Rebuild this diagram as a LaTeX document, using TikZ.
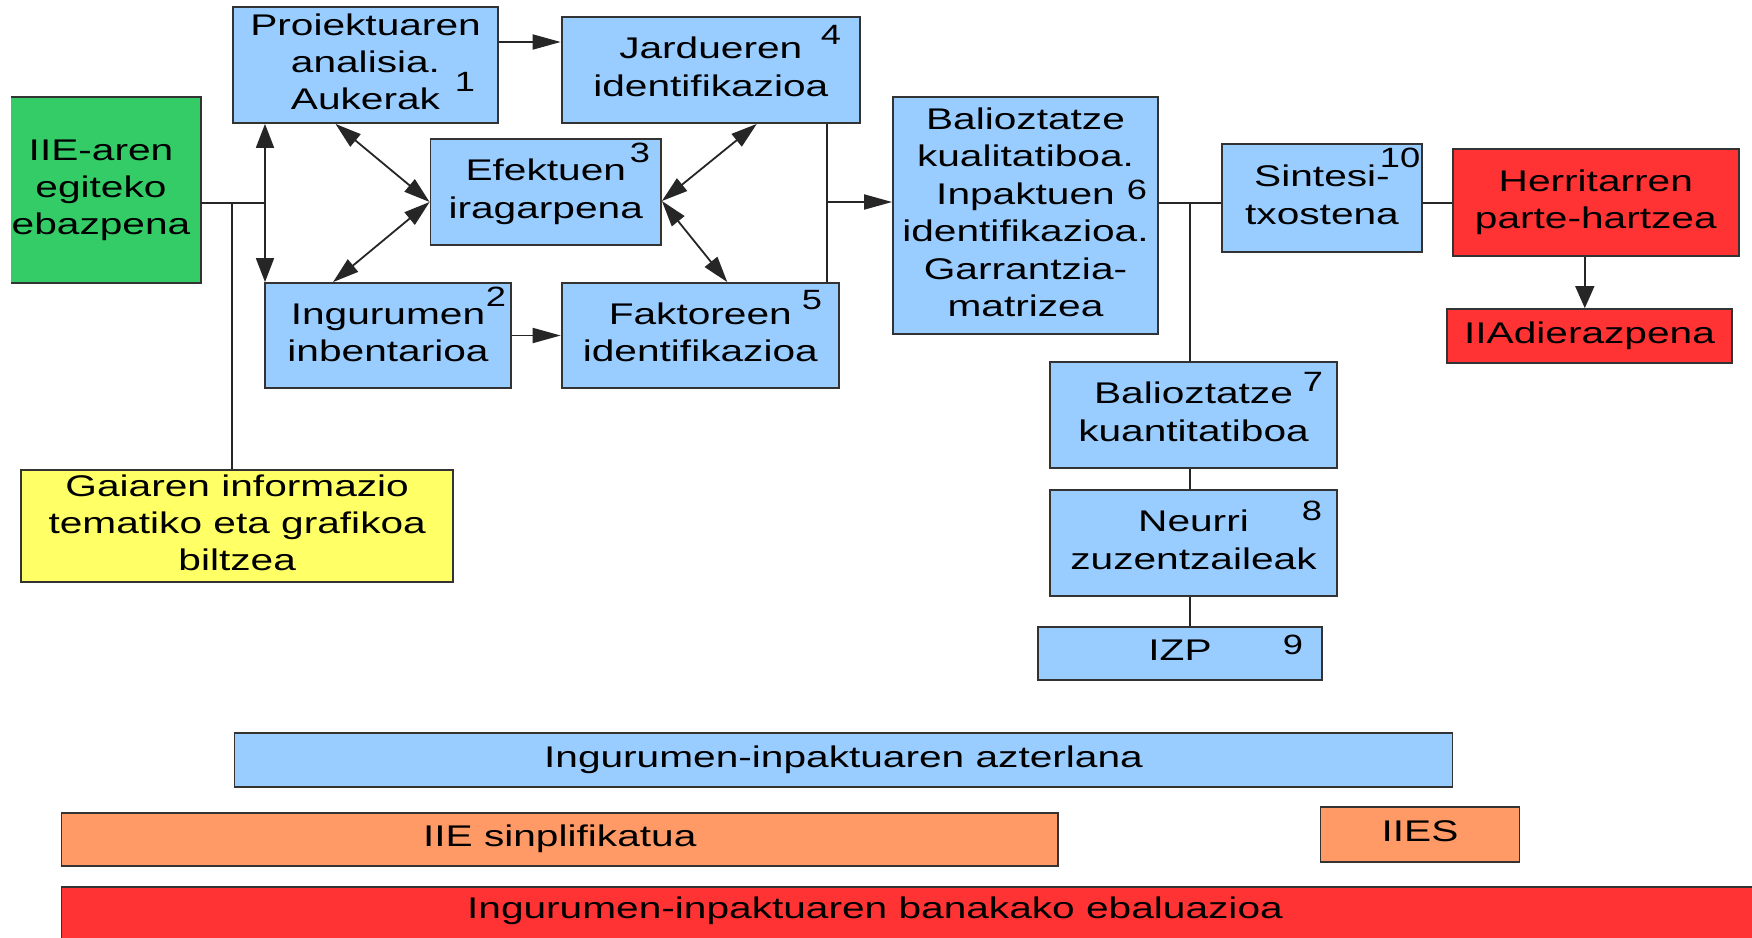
\documentclass[tikz,border=0pt]{standalone}
\usepackage{fontspec}
\setmainfont{Liberation Sans}
\usepackage{graphicx}
\usetikzlibrary{arrows.meta}
\definecolor{bblue}{HTML}{99CCFF}
\definecolor{bgreen}{HTML}{33CC66}
\definecolor{byellow}{HTML}{FFFF66}
\definecolor{bred}{HTML}{FF3333}
\definecolor{borange}{HTML}{FF9966}
\definecolor{edge}{HTML}{333333}
\newcommand{\tx}[1]{\scalebox{1.36}[1]{\begin{tabular}{@{}c@{}}#1\end{tabular}}}
\newcommand{\nmb}[1]{\scalebox{1.3}[1]{#1}}
\begin{document}
\begin{tikzpicture}[x=1bp,y=-1bp,
  box/.style={draw=edge, line width=1.8bp, inner sep=0pt, font=\fontsize{30}{37.5}\selectfont},
  bluebox/.style={box, fill=bblue},
  txt/.style={inner sep=0pt, font=\fontsize{30}{37.5}\selectfont},
  num/.style={inner sep=0pt, font=\fontsize{28}{30}\selectfont},
  con/.style={line width=1.8bp, draw=black!85},
  ha/.style={-{Triangle[length=28bp,width=15bp]}},
  va/.style={-{Triangle[length=22bp,width=19bp]}},
  vdd/.style={{Triangle[length=24bp,width=18bp]}-{Triangle[length=24bp,width=18bp]}},
  ddd/.style={{Triangle[length=26bp,width=16bp]}-{Triangle[length=26bp,width=16bp]}}
]
\useasboundingbox (0,0) rectangle (1752,937);
\fill[white] (0,0) rectangle (1752,937);

% green box (left edge cut by the page)
\node[inner sep=0pt, fill=bgreen, minimum width=189.5bp, minimum height=186bp] (g) at (106.25,190) {};
\draw[edge, line width=1.8bp] (g.north west) -- (g.north east) -- (g.south east) -- (g.south west);
\node[txt] (gt) at (101,190) {\tx{IIE-aren\\egiteko\\ebazpena}};

\node[bluebox, minimum width=265bp, minimum height=116bp] (b1) at (365.5,65) {\tx{Proiektuaren\\analisia.\\Aukerak}};
\node[bluebox, minimum width=298.4bp, minimum height=106bp] (b4) at (710.8,70) {\tx{Jardueren\\identifikazioa}};
\node[bluebox, minimum width=230.5bp, minimum height=106bp] (b3) at (545.75,192) {\tx{Efektuen\\iragarpena}};
\node[bluebox, minimum width=246bp, minimum height=105bp] (b2) at (388,335.5) {\tx{Ingurumen\\inbentarioa}};
\node[bluebox, minimum width=277.4bp, minimum height=105bp] (b5) at (700.3,335.5) {\tx{Faktoreen\\identifikazioa}};
\node[bluebox, minimum width=265bp, minimum height=237bp] (b6) at (1025.5,215.5) {\tx{Balioztatze\\kualitatiboa.\\Inpaktuen\\identifikazioa.\\Garrantzia-\\matrizea}};
\node[bluebox, minimum width=200bp, minimum height=108bp] (b10) at (1322,198) {\tx{Sintesi-\\txostena}};
\node[box, fill=bred, minimum width=285.6bp, minimum height=107bp] (bh) at (1595.8,202.5) {\tx{Herritarren\\parte-hartzea}};
\node[box, fill=bred, minimum width=285bp, minimum height=54bp] (ba) at (1589.5,336) {\tx{IIAdierazpena}};
\node[bluebox, minimum width=287bp, minimum height=106bp] (b7) at (1193.5,415) {\tx{Balioztatze\\kuantitatiboa}};
\node[bluebox, minimum width=287bp, minimum height=106bp] (b8) at (1193.5,543) {\tx{Neurri\\zuzentzaileak}};
\node[bluebox, minimum width=284bp, minimum height=53bp] (b9) at (1180,653.5) {\tx{IZP}};
\node[box, fill=byellow, minimum width=431.6bp, minimum height=108bp] (y) at (237.2,526) {\tx{Gaiaren informazio\\tematiko eta grafikoa\\biltzea}};

% bottom bars
\node[bluebox, minimum width=1218bp, minimum height=54bp] (az) at (843.5,760) {\tx{Ingurumen-inpaktuaren azterlana}};
\node[box, fill=borange, minimum width=996.5bp, minimum height=53bp] (sp) at (559.75,839.5) {\tx{IIE sinplifikatua}};
\node[box, fill=borange, minimum width=199bp, minimum height=55bp] (ies) at (1420,834.5) {\tx{IIES}};
\node[box, fill=bred, minimum width=1708bp, minimum height=63bp] (bk) at (915.5,918.5) {};
\node[txt] (bkt) at (875,911) {\tx{Ingurumen-inpaktuaren banakako ebaluazioa}};

% numbers
\node[num] (n1) at (465,82) {\nmb{1}};
\node[num] (n4) at (831,35) {\nmb{4}};
\node[num] (n3) at (640,153) {\nmb{3}};
\node[num] (n2) at (496,297) {\nmb{2}};
\node[num] (n5) at (812,300) {\nmb{5}};
\node[num] (n6) at (1137,190) {\nmb{6}};
\node[num] (n10) at (1400,158) {\nmb{10}};
\node[num] (n7) at (1313,382) {\nmb{7}};
\node[num] (n8) at (1312,511) {\nmb{8}};
\node[num] (n9) at (1293,645) {\nmb{9}};

% connectors
\coordinate (j1) at (232,203);
\coordinate (j2) at (265,203);
\draw[con] (g.east |- j1) -- (j2);
\draw[con] (j1) -- (j1 |- y.north);
\draw[con, vdd] (b1.south -| j2) -- (b2.north -| j2);

\coordinate (e3w) at ([yshift=-10bp]b3.west);
\coordinate (e3e) at ([yshift=-9bp]b3.east);
\draw[con, ddd] ([xshift=-30bp]b1.south) -- (e3w);
\draw[con, ddd] ([xshift=-55bp]b2.north) -- (e3w);
\draw[con, ddd] (e3e) -- ([xshift=46bp]b4.south);
\draw[con, ddd] (e3e) -- ([xshift=27bp]b5.north);

\coordinate (a14) at ([yshift=23bp]b1.east);
\draw[con, ha] (a14) -- (a14 -| b4.west);
\draw[con, ha] (b2.east) -- (b2.east -| b5.west);

\coordinate (j3) at (827,202);
\draw[con] (j3 |- b4.south) -- (j3 |- b5.north);
\draw[con, ha] (j3) -- (j3 -| b6.west);

\coordinate (j4) at (1190,203);
\draw[con] (j4 -| b6.east) -- (j4 -| b10.west);
\draw[con] (j4) -- (j4 |- b7.north);
\draw[con] (j4 |- b7.south) -- (j4 |- b8.north);
\draw[con] (j4 |- b8.south) -- (j4 |- b9.north);
\draw[con] (j4 -| b10.east) -- (j4 -| bh.west);

\coordinate (hb) at ([xshift=-11bp]bh.south);
\draw[con, va] (hb) -- (hb |- ba.north);
\end{tikzpicture}
\end{document}
